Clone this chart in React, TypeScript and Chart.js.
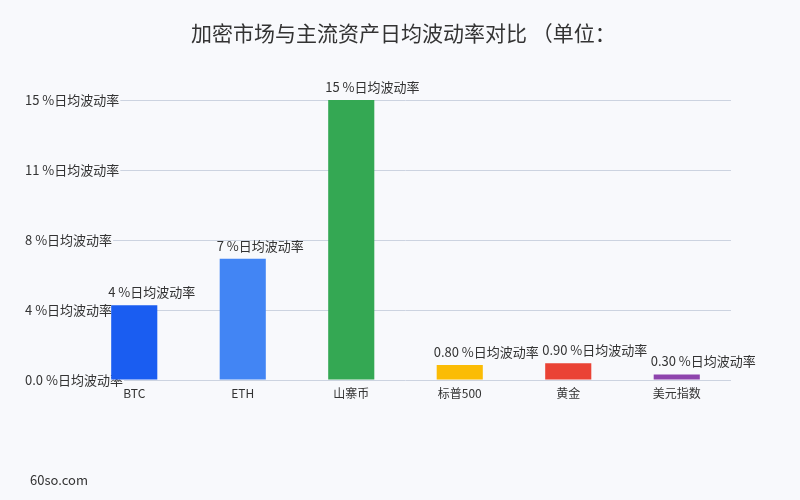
import React, { useEffect, useRef } from "react";
import { Chart, registerables } from "chart.js";

Chart.register(...registerables);

const TITLE = "加密市场与主流资产日均波动率对比 （单位：";
const FOOTER = "60so.com";
const categories = ["BTC", "ETH", "山寨币", "标普500", "黄金", "美元指数"];
const volatility = [4.0, 6.5, 15, 0.8, 0.9, 0.3];
const barColors = ["#1a5df1", "#4285f4", "#34a853", "#fbbc05", "#ea4335", "#8e44ad"];
const yTickLabels = ["0.0 %日均波动率", "4 %日均波动率", "8 %日均波动率", "11 %日均波动率", "15 %日均波动率"];
const UNIT = " %日均波动率";

const BG = "#f8f9fc";
const FONT = "'Noto Sans CJK SC', 'Noto Sans', sans-serif";

const fmt = (v: number) => (v >= 1 ? v.toFixed(0) : v.toFixed(2)) + UNIT;

const valueLabels = {
  id: "valueLabels",
  afterDatasetsDraw(chart: any) {
    const ctx = chart.ctx;
    const meta = chart.getDatasetMeta(0);
    ctx.save();
    ctx.font = `13px ${FONT}`;
    ctx.fillStyle = "#333333";
    ctx.textAlign = "left";
    ctx.textBaseline = "middle";
    meta.data.forEach((bar: any, i: number) => {
      const left = bar.x - bar.width / 2 - 3;
      ctx.fillText(fmt(volatility[i]), left, bar.y - 13);
    });
    ctx.restore();
  },
};

export default function App() {
  const ref = useRef<HTMLCanvasElement>(null);
  useEffect(() => {
    const chart = new Chart(ref.current!, {
      type: "bar",
      data: {
        labels: categories,
        datasets: [
          {
            data: volatility,
            backgroundColor: barColors,
            categoryPercentage: 0.85,
            barPercentage: 0.5,
          },
        ],
      },
      options: {
        animation: false,
        responsive: false,
        layout: { padding: { left: 25, right: 69, top: 100, bottom: 0 } },
        plugins: {
          legend: { display: false },
          tooltip: { enabled: false },
          title: { display: false },
        },
        scales: {
          x: {
            grid: { display: false, drawTicks: false },
            border: { display: false },
            ticks: { color: "#333333", font: { family: FONT, size: 12 }, padding: 6 },
            afterFit: (s: any) => {
              s.height = 120;
            },
          },
          y: {
            min: 0,
            max: 15,
            grid: { color: "#ccd3e0", drawTicks: false },
            border: { display: false },
            ticks: {
              stepSize: 3.75,
              mirror: true,
              padding: -55,
              color: "#333333",
              font: { family: FONT, size: 13 },
              showLabelBackdrop: true,
              backdropColor: BG,
              backdropPadding: 1,
              callback: (_v: any, i: number) => yTickLabels[i],
            },
            afterFit: (s: any) => {
              s.width = 55;
            },
          },
        },
      } as any,
      plugins: [valueLabels],
    });
    return () => chart.destroy();
  }, []);
  return (
    <div style={{ position: "fixed", left: 0, top: 0, width: 800, height: 500, background: BG }}>
      <canvas ref={ref} width={800} height={500} style={{ display: "block" }} />
      <div
        style={{
          position: "absolute",
          left: 191,
          top: 19,
          whiteSpace: "nowrap",
          fontFamily: FONT,
          fontSize: 21,
          color: "#333333",
          lineHeight: "26px",
          textSpacingTrim: "space-all",
        } as any}
      >
        {TITLE}
      </div>
      <div
        style={{
          position: "absolute",
          left: 30,
          top: 470,
          fontFamily: FONT,
          fontSize: 13,
          color: "#333333",
          lineHeight: "20px",
        }}
      >
        {FOOTER}
      </div>
    </div>
  );
}
